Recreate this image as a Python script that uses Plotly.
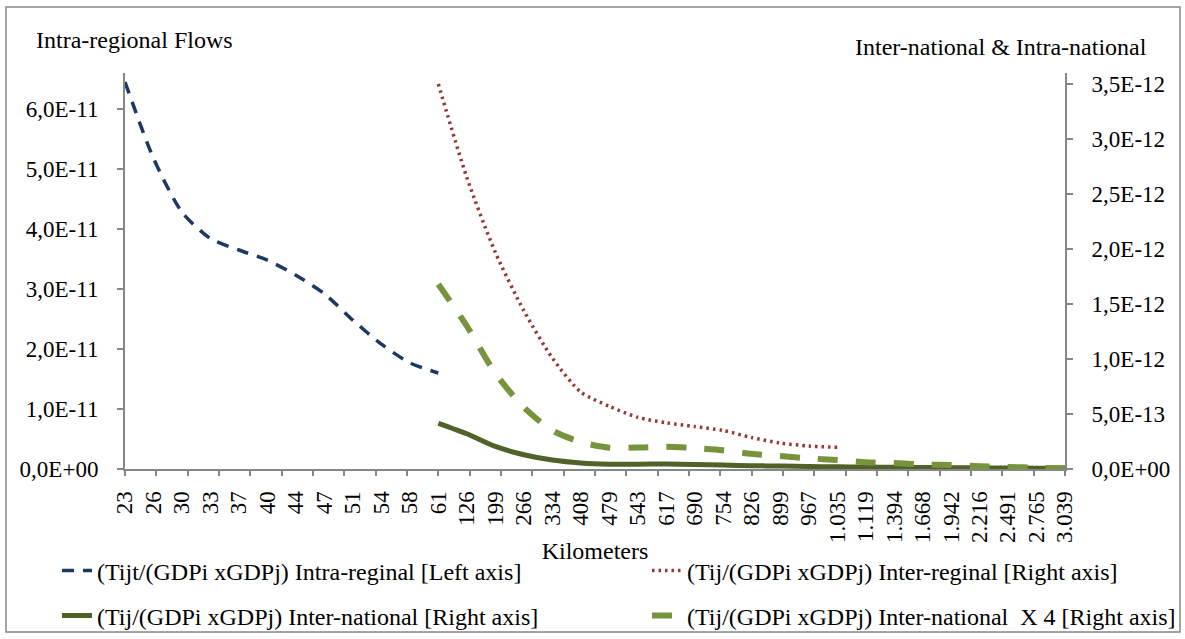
import plotly.graph_objects as go

# ---- data ----
km_labels = ["23", "26", "30", "33", "37", "40", "44", "47", "51", "54", "58", "61",
             "126", "199", "266", "334", "408", "479", "543", "617", "690", "754",
             "826", "899", "967", "1.035", "1.119", "1.394", "1.668", "1.942",
             "2.216", "2.491", "2.765", "3.039"]

# Intra-regional (left axis), categories 23 .. 61
intra_regional = [6.45e-11, 5.18e-11, 4.28e-11, 3.84e-11, 3.65e-11, 3.48e-11,
                  3.23e-11, 2.92e-11, 2.48e-11, 2.08e-11, 1.77e-11, 1.60e-11]

# Inter-regional (right axis), categories 61 .. 1.035
inter_regional = [3.50e-12, 2.65e-12, 1.97e-12, 1.44e-12, 1.01e-12, 0.70e-12,
                  0.57e-12, 0.47e-12, 0.42e-12, 0.386e-12, 0.35e-12, 0.286e-12,
                  0.236e-12, 0.209e-12, 0.197e-12]

# Inter-national (right axis), categories 61 .. 3.039
inter_national = [0.415e-12, 0.32e-12, 0.205e-12, 0.13e-12, 0.082e-12, 0.055e-12,
                  0.044e-12, 0.044e-12, 0.045e-12, 0.041e-12, 0.036e-12, 0.030e-12,
                  0.027e-12, 0.023e-12, 0.020e-12, 0.018e-12, 0.015e-12, 0.014e-12,
                  0.012e-12, 0.011e-12, 0.009e-12, 0.007e-12, 0.006e-12]

# Inter-national x 4 (right axis), categories 61 .. 3.039
inter_national_x4 = [1.68e-12, 1.30e-12, 0.87e-12, 0.56e-12, 0.35e-12, 0.245e-12,
                     0.194e-12, 0.195e-12, 0.203e-12, 0.19e-12, 0.17e-12, 0.138e-12,
                     0.118e-12, 0.097e-12, 0.082e-12, 0.061e-12, 0.055e-12, 0.041e-12,
                     0.036e-12, 0.025e-12, 0.018e-12, 0.012e-12, 0.006e-12]

left_ticks = [0, 1e-11, 2e-11, 3e-11, 4e-11, 5e-11, 6e-11]
left_tick_text = ["0,0E+00", "1,0E-11", "2,0E-11", "3,0E-11", "4,0E-11", "5,0E-11", "6,0E-11"]
right_ticks = [0, 5e-13, 1e-12, 1.5e-12, 2e-12, 2.5e-12, 3e-12, 3.5e-12]
right_tick_text = ["0,0E+00", "5,0E-13", "1,0E-12", "1,5E-12", "2,0E-12", "2,5E-12",
                   "3,0E-12", "3,5E-12"]

names = ["(Tijt/(GDPi xGDPj) Intra-reginal [Left axis]",
         "(Tij/(GDPi xGDPj) Inter-reginal [Right axis]",
         "(Tij/(GDPi xGDPj) Inter-national [Right axis]",
         "(Tij/(GDPi xGDPj) Inter-national  X 4 [Right axis]"]

# ---- geometry ----
W, H = 1185, 639
L, R, T, B = 125, 1065, 73, 469
pw, ph = R - L, B - T
def px(x):
    return (x - L) / pw
def py(y):
    return (B - y) / ph

FONT = "Liberation Serif, Times New Roman, serif"
FS = 23      # tick labels
FS_TXT = 24  # titles and legend
GRAY = "#868686"

idx = list(range(len(km_labels)))
start_inter = km_labels.index("61")

fig = go.Figure()
fig.add_trace(go.Scatter(
    x=idx[:len(intra_regional)], y=intra_regional, name=names[0], mode="lines",
    line=dict(color="#1B3A63", width=3.5, dash="12px,9px", shape="spline", smoothing=0.7),
    yaxis="y", legend="legend"))
fig.add_trace(go.Scatter(
    x=idx[start_inter:start_inter + len(inter_regional)], y=inter_regional, name=names[1],
    mode="lines",
    line=dict(color="#953735", width=3.5, dash="2.5px,4px", shape="spline", smoothing=0.7),
    yaxis="y2", legend="legend2"))
fig.add_trace(go.Scatter(
    x=idx[start_inter:start_inter + len(inter_national)], y=inter_national, name=names[2],
    mode="lines",
    line=dict(color="#4F6228", width=5, shape="spline", smoothing=0.7),
    yaxis="y2", legend="legend3"))
fig.add_trace(go.Scatter(
    x=idx[start_inter:start_inter + len(inter_national_x4)], y=inter_national_x4,
    name=names[3], mode="lines",
    line=dict(color="#77933C", width=6, dash="20px,18px", shape="spline", smoothing=0.7),
    yaxis="y2", legend="legend4"))
# invisible trace to carry the tick-mark axis
fig.add_trace(go.Scatter(x=[None], y=[None], xaxis="x2", yaxis="y", showlegend=False,
                         hoverinfo="skip"))


def leg(x, y):
    return dict(orientation="h", x=px(x), y=py(y), xanchor="left", yanchor="middle",
                bgcolor="rgba(0,0,0,0)", borderwidth=0,
                font=dict(family=FONT, size=FS_TXT))


n_tick_intervals = 30
fig.update_layout(
    width=W, height=H,
    paper_bgcolor="white", plot_bgcolor="white",
    margin=dict(l=L, r=W - R, t=T, b=H - B, autoexpand=False),
    font=dict(family=FONT, size=FS, color="black"),
    xaxis=dict(range=[0, len(km_labels) - 1], tickmode="array", tickvals=idx,
               ticktext=km_labels, tickangle=-90, ticks="", showline=True,
               linecolor=GRAY, linewidth=2, showgrid=False, zeroline=False,
               ticklabelstandoff=11, tickfont=dict(family=FONT, size=FS),
               title=dict(text="Kilometers", standoff=0,
                          font=dict(family=FONT, size=FS_TXT))),
    xaxis2=dict(overlaying="x", anchor="y", side="bottom",
                range=[0, len(km_labels) - 1], tickmode="array",
                tickvals=[i * (len(km_labels) - 1) / n_tick_intervals
                          for i in range(n_tick_intervals + 1)],
                ticks="outside", ticklen=6, tickwidth=1.5, tickcolor=GRAY,
                showticklabels=False, showline=False, showgrid=False, zeroline=False),
    yaxis=dict(range=[0, 6.6e-11], tickmode="array", tickvals=left_ticks,
               ticktext=left_tick_text, ticks="outside", ticklen=6, tickwidth=1.5,
               tickcolor=GRAY, showline=True, linecolor=GRAY, linewidth=2,
               showgrid=False, zeroline=False, ticklabelstandoff=14),
    yaxis2=dict(range=[0, 3.6e-12], overlaying="y", side="right", anchor="x",
                tickmode="array", tickvals=right_ticks, ticktext=right_tick_text,
                ticks="outside", ticklen=6, tickwidth=1.5, tickcolor=GRAY,
                showline=True, linecolor=GRAY, linewidth=2, showgrid=False,
                zeroline=False, ticklabelstandoff=14),
    legend=leg(57, 571),
    legend2=leg(647, 571),
    legend3=leg(57, 616),
    legend4=leg(647, 616),
    showlegend=True,
    annotations=[
        dict(text="Intra-regional Flows", xref="paper", yref="paper",
             x=px(34), y=py(40), xanchor="left", yanchor="middle", showarrow=False,
             font=dict(family=FONT, size=FS_TXT)),
        dict(text="Inter-national & Intra-national", xref="paper", yref="paper",
             x=px(853), y=py(47), xanchor="left", yanchor="middle", showarrow=False,
             font=dict(family=FONT, size=FS_TXT)),
    ],
    shapes=[dict(type="rect", xref="paper", yref="paper",
                 x0=px(6), x1=px(1180), y0=py(632), y1=py(7),
                 line=dict(color=GRAY, width=1.5), fillcolor="rgba(0,0,0,0)",
                 layer="below")],
)

fig.write_html("out.html")
